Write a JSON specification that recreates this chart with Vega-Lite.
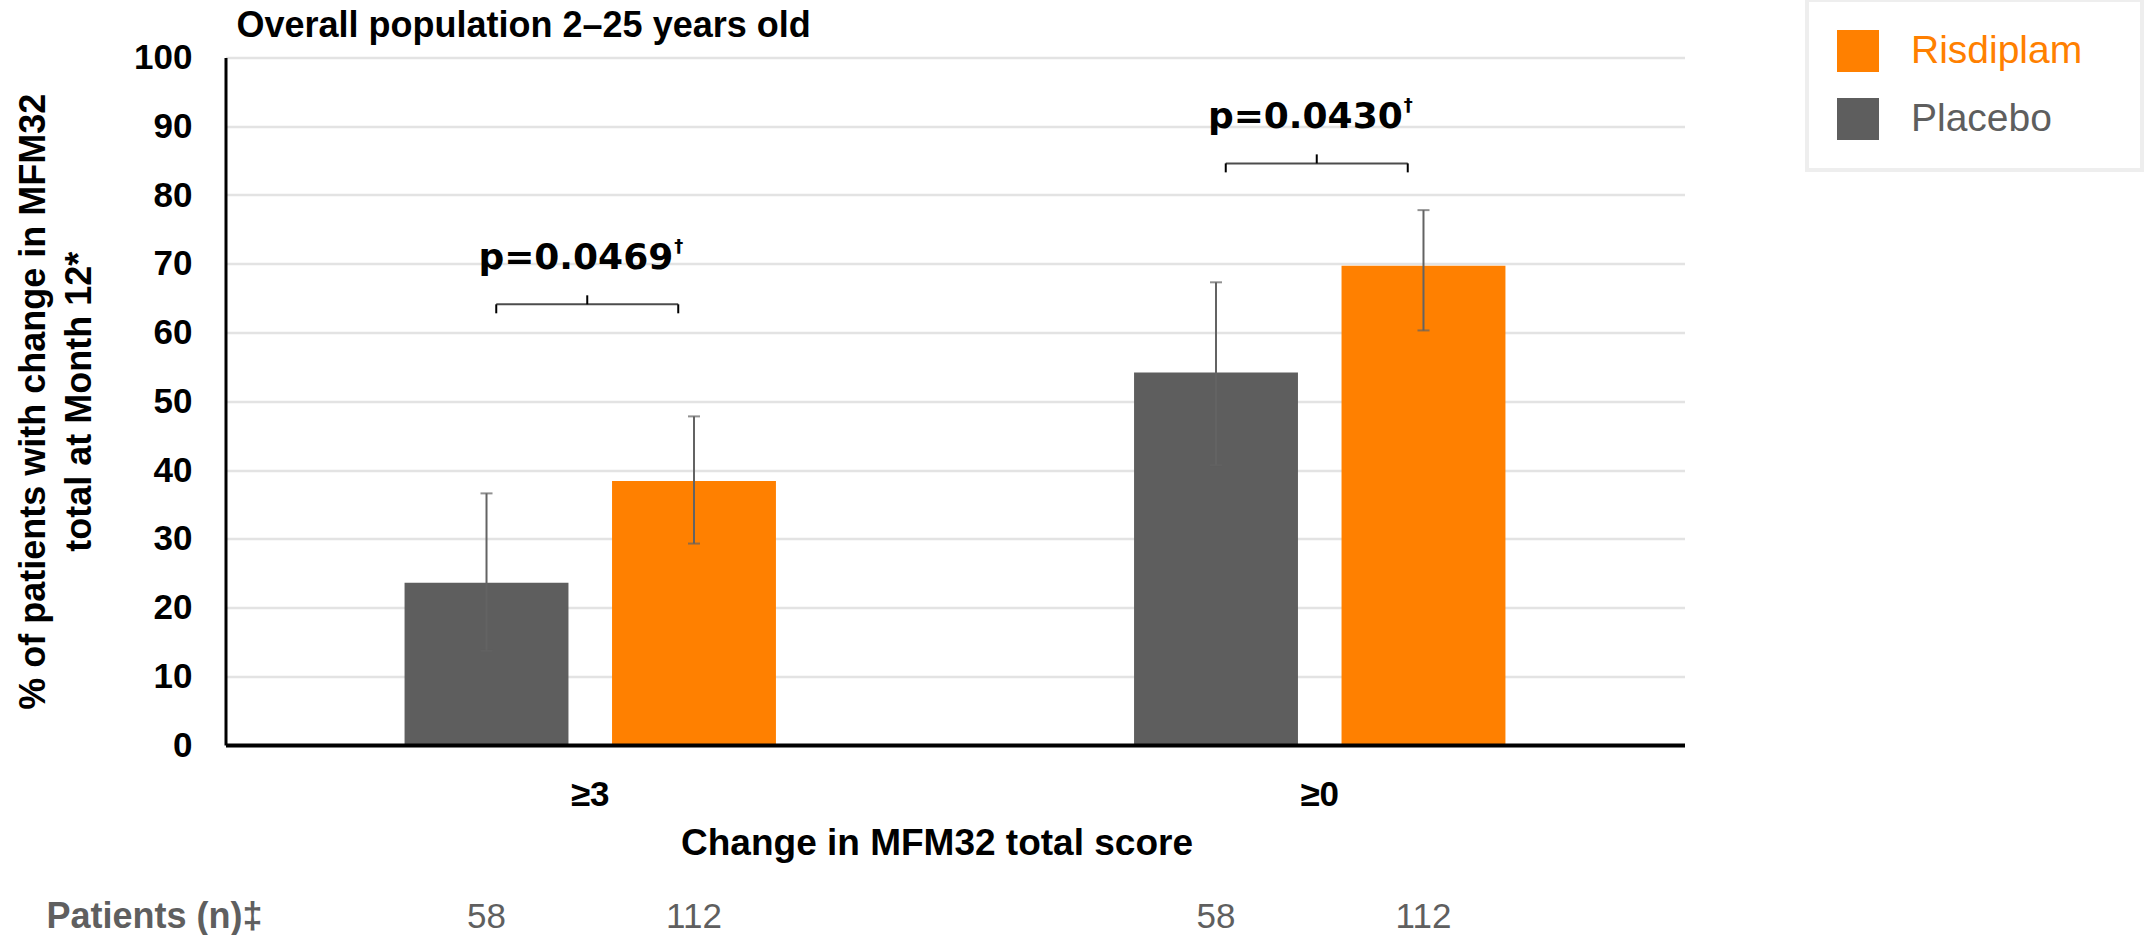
{
  "$schema": "https://vega.github.io/schema/vega-lite/v6.json",
  "width": 1459,
  "height": 687.5,
  "autosize": {"type": "none"},
  "padding": {"left": 225.5, "top": 57.5, "right": 461.5, "bottom": 190},
  "background": "#ffffff",
  "config": {"view": {"stroke": null}, "font": "Liberation Sans"},
  "title": {
    "text": "Overall population 2–25 years old",
    "anchor": "start",
    "frame": "group",
    "font": "Liberation Sans",
    "fontSize": 36,
    "fontWeight": "bold",
    "color": "#000000",
    "dx": 11,
    "baseline": "alphabetic",
    "offset": -75
  },
  "datasets": {
    "bars": [
      {"group": "≥3", "treatment": "Placebo", "pct": 23.6, "lo": 13.7, "hi": 36.6, "n": 58},
      {"group": "≥3", "treatment": "Risdiplam", "pct": 38.4, "lo": 29.3, "hi": 47.8, "n": 112},
      {"group": "≥0", "treatment": "Placebo", "pct": 54.2, "lo": 40.7, "hi": 67.3, "n": 58},
      {"group": "≥0", "treatment": "Risdiplam", "pct": 69.7, "lo": 60.3, "hi": 77.8, "n": 112}
    ],
    "pvals": [
      {"group": "≥3", "p": "p=0.0469", "top": 64.1},
      {"group": "≥0", "p": "p=0.0430", "top": 84.6}
    ]
  },
  "layer": [
    {
      "layer": [
        {
          "data": {"name": "bars"},
          "mark": {"type": "bar"},
          "encoding": {
            "x": {
              "field": "group", "type": "nominal", "sort": ["≥3", "≥0"],
              "scale": {"paddingInner": 0, "paddingOuter": 0},
              "axis": {
                "title": "Change in MFM32 total score",
                "labelAngle": 0, "ticks": false, "grid": false, "zindex": 1,
                "domainColor": "#000000", "domainWidth": 4,
                "labelFont": "Liberation Sans", "labelFontWeight": "bold", "labelFontSize": 35,
                "labelColor": "#000000", "labelPadding": 32, "labelBaseline": "top",
                "titleFont": "Liberation Sans", "titleFontWeight": "bold", "titleFontSize": 37,
                "titleColor": "#000000", "titlePadding": 13, "titleX": 711, "titleAlign": "center"
              }
            },
            "xOffset": {
              "field": "treatment", "type": "nominal", "sort": ["Placebo", "Risdiplam"],
              "scale": {"paddingInner": 0.21, "paddingOuter": 0.863}
            },
            "y": {
              "field": "pct", "type": "quantitative",
              "scale": {"domain": [0, 100], "nice": false},
              "axis": {
                "title": ["% of patients with change in MFM32", "total at Month 12*"],
                "values": [0, 10, 20, 30, 40, 50, 60, 70, 80, 90, 100],
                "ticks": false, "labelFlush": false, "labelOverlap": false,
                "domainColor": "#000000", "domainWidth": 3,
                "gridColor": "#e3e3e3", "gridWidth": 2.5,
                "labelFont": "Liberation Sans", "labelFontWeight": "bold", "labelFontSize": 35,
                "labelColor": "#000000", "labelPadding": 33.5,
                "titleFont": "Liberation Sans", "titleFontWeight": "bold", "titleFontSize": 36,
                "titleColor": "#000000", "titleLineHeight": 46, "titlePadding": 35
              }
            },
            "color": {
              "field": "treatment", "type": "nominal",
              "scale": {"domain": ["Risdiplam", "Placebo"], "range": ["#FF8000", "#5E5E5E"]},
              "legend": {
                "orient": "none", "legendX": 1581.5, "legendY": -57.5,
                "title": " ", "titleOrient": "right", "titlePadding": 30, "titleFontSize": 39,
                "symbolType": "square", "symbolSize": 1764, "symbolStrokeWidth": 0, "symbolOpacity": 1,
                "labelFont": "Liberation Sans", "labelFontSize": 39, "labelOffset": 32, "labelLimit": 400,
                "rowPadding": 26, "padding": 30, "strokeColor": "#eeeeee",
                "encode": {
                  "labels": {"update": {"fill": {"signal": "datum.value === 'Risdiplam' ? '#FF8000' : '#5E5E5E'"}}},
                  "legend": {"update": {"strokeWidth": {"value": 4}}}
                }
              }
            }
          }
        },
        {
          "data": {"name": "bars"},
          "mark": {"type": "rule", "color": "#636363", "strokeWidth": 2},
          "encoding": {
            "x": {"field": "group", "type": "nominal", "sort": ["≥3", "≥0"]},
            "xOffset": {"field": "treatment", "type": "nominal", "sort": ["Placebo", "Risdiplam"]},
            "y": {"field": "lo", "type": "quantitative"},
            "y2": {"field": "hi"}
          }
        },
        {
          "data": {"name": "bars"},
          "mark": {"type": "tick", "color": "#636363", "thickness": 2, "size": 12, "orient": "horizontal"},
          "encoding": {
            "x": {"field": "group", "type": "nominal", "sort": ["≥3", "≥0"]},
            "xOffset": {"field": "treatment", "type": "nominal", "sort": ["Placebo", "Risdiplam"]},
            "y": {"field": "hi", "type": "quantitative"}
          }
        },
        {
          "data": {"name": "bars"},
          "mark": {"type": "tick", "color": "#636363", "thickness": 2, "size": 12, "orient": "horizontal"},
          "encoding": {
            "x": {"field": "group", "type": "nominal", "sort": ["≥3", "≥0"]},
            "xOffset": {"field": "treatment", "type": "nominal", "sort": ["Placebo", "Risdiplam"]},
            "y": {"field": "lo", "type": "quantitative"}
          }
        },
        {
          "data": {"name": "pvals"},
          "mark": {"type": "tick", "orient": "horizontal", "size": 182, "thickness": 2, "color": "#000000", "xOffset": -3},
          "encoding": {
            "x": {"field": "group", "type": "nominal", "sort": ["≥3", "≥0"]},
            "y": {"field": "top", "type": "quantitative"}
          }
        },
        {
          "data": {"name": "pvals"},
          "mark": {"type": "rule", "color": "#000000", "strokeWidth": 2, "xOffset": -94, "y2Offset": 9},
          "encoding": {
            "x": {"field": "group", "type": "nominal", "sort": ["≥3", "≥0"]},
            "y": {"field": "top", "type": "quantitative"},
            "y2": {"field": "top"}
          }
        },
        {
          "data": {"name": "pvals"},
          "mark": {"type": "rule", "color": "#000000", "strokeWidth": 2, "xOffset": 88, "y2Offset": 9},
          "encoding": {
            "x": {"field": "group", "type": "nominal", "sort": ["≥3", "≥0"]},
            "y": {"field": "top", "type": "quantitative"},
            "y2": {"field": "top"}
          }
        },
        {
          "data": {"name": "pvals"},
          "mark": {"type": "rule", "color": "#000000", "strokeWidth": 2, "xOffset": -3, "y2Offset": -9},
          "encoding": {
            "x": {"field": "group", "type": "nominal", "sort": ["≥3", "≥0"]},
            "y": {"field": "top", "type": "quantitative"},
            "y2": {"field": "top"}
          }
        },
        {
          "data": {"name": "pvals"},
          "mark": {"type": "text", "font": "DejaVu Sans", "fontWeight": "bold", "fontSize": 36, "align": "right", "baseline": "alphabetic", "dx": 83, "dy": -35, "color": "#000000"},
          "encoding": {
            "x": {"field": "group", "type": "nominal", "sort": ["≥3", "≥0"]},
            "y": {"field": "top", "type": "quantitative"},
            "text": {"field": "p"}
          }
        },
        {
          "data": {"name": "pvals"},
          "mark": {"type": "text", "font": "DejaVu Sans", "fontWeight": "bold", "fontSize": 18, "align": "left", "baseline": "alphabetic", "dx": 84, "dy": -52, "color": "#000000"},
          "encoding": {
            "x": {"field": "group", "type": "nominal", "sort": ["≥3", "≥0"]},
            "y": {"field": "top", "type": "quantitative"},
            "text": {"value": "†"}
          }
        }
      ]
    },
    {
      "data": {"name": "bars"},
      "mark": {"type": "text", "font": "Liberation Sans", "fontSize": 35, "color": "#5f5f5f", "baseline": "middle"},
      "encoding": {
        "x": {
          "field": "group", "type": "nominal", "sort": ["≥3", "≥0"],
          "axis": {
            "orient": "bottom",
            "title": "Patients (n)‡", "domain": false, "ticks": false, "labels": false, "grid": false,
            "titleFont": "Liberation Sans", "titleFontWeight": "bold", "titleFontSize": 36,
            "titleColor": "#5f5f5f", "titleAlign": "left", "titleAnchor": "start",
            "titleX": -179.5, "titleY": 171, "titleBaseline": "middle"
          }
        },
        "xOffset": {"field": "treatment", "type": "nominal", "sort": ["Placebo", "Risdiplam"]},
        "y": {"datum": -25, "type": "quantitative"},
        "text": {"field": "n", "type": "quantitative"}
      }
    }
  ],
  "resolve": {"axis": {"x": "independent"}}
}
